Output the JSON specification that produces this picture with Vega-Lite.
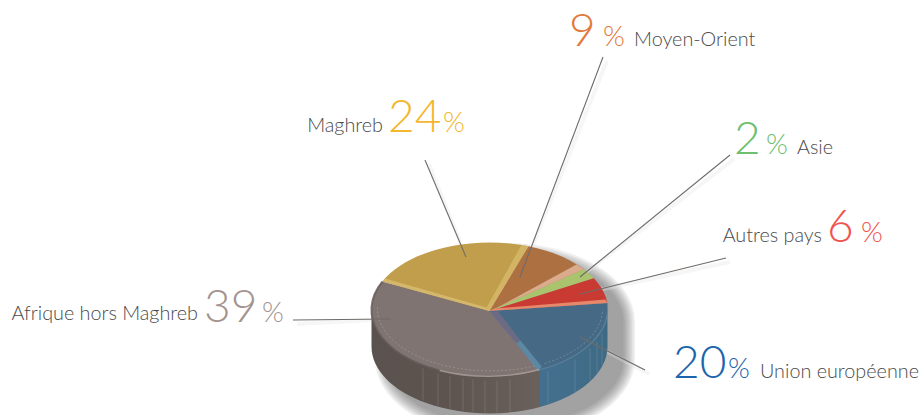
{
"$schema":"https://vega.github.io/schema/vega-lite/v6.json",
"width":921,"height":415,"padding":0,"autosize":{"type":"none"},
"background":"white","view":{"stroke":null},
"config":{"font":"Lato"},
"datasets":{
"regions":[
{"region":"Afrique hors Maghreb","share":39,"nameX":198,"nameY":320,"numX":204,"numY":322,"pctX":262,"pctY":322,"nameAlign":"right"},
{"region":"Maghreb","share":24,"nameX":383,"nameY":132,"numX":388,"numY":132,"pctX":443,"pctY":132,"nameAlign":"right"},
{"region":"Moyen-Orient","share":9,"nameX":634,"nameY":46,"numX":569,"numY":46,"pctX":603,"pctY":46,"nameAlign":"left"},
{"region":"Asie","share":2,"nameX":797,"nameY":154,"numX":734,"numY":154,"pctX":766,"pctY":154,"nameAlign":"left"},
{"region":"Autres pays","share":6,"nameX":822,"nameY":242,"numX":827,"numY":242,"pctX":861,"pctY":242,"nameAlign":"right"},
{"region":"Union européenne","share":20,"nameX":760,"nameY":378,"numX":673,"numY":378,"pctX":728,"pctY":378,"nameAlign":"left"}
],
"leaders":[
{"region":"Afrique hors Maghreb","x":293,"y":320,"x2":391,"y2":319},
{"region":"Maghreb","x":425,"y":160,"x2":466,"y2":257},
{"region":"Moyen-Orient","x":603,"y":57,"x2":520,"y2":277},
{"region":"Asie","x":730,"y":155,"x2":580,"y2":277},
{"region":"Autres pays","x":726,"y":258,"x2":580,"y2":294},
{"region":"Union européenne","x":645,"y":370,"x2":580,"y2":337}
],
"shadow":[{"level":1},{"level":2},{"level":3},{"level":4},{"level":5},{"level":6},{"level":7},{"level":8}]
},
"layer":[
{"data":{"name":"shadow"},
 "mark":{"type":"point","filled":true,"size":4,"opacity":0.075,"color":"#444444","shape":"M-118 0L-118 37A118 67 0 0 0 118 37L118 0A118 67 0 0 0 -118 0Z"},
 "encoding":{"x":{"datum":505,"type":"quantitative","scale":{"domain":[0,921],"nice":false,"zero":false},"axis":null},
 "y":{"datum":322,"type":"quantitative","scale":{"domain":[0,415],"reverse":true,"nice":false,"zero":false},"axis":null},
 "stroke":{"value":"#444444"},
 "strokeWidth":{"field":"level","type":"quantitative","scale":{"domain":[1,8],"range":[1,24]},"legend":null}}},
{"data":{"name":"leaders"},
 "mark":{"type":"rule","stroke":"#e4e4e4","strokeWidth":4,"opacity":0.35,"xOffset":4,"yOffset":4},
 "encoding":{"x":{"field":"x","type":"quantitative"},"y":{"field":"y","type":"quantitative"},"x2":{"field":"x2"},"y2":{"field":"y2"}}},
{"data":{"values":[{"part":"paroi Afrique"}]},
 "mark":{"type":"point","filled":true,"size":4,"opacity":1,"strokeWidth":0,"shape":"M-118 0L-118 37A118 67 0 0 0 50.5 97.5L50.5 60A118 67 0 0 1 -118 0Z",
 "fill":{"x1":0,"y1":0,"x2":1,"y2":0,"gradient":"linear","stops":[{"offset":0,"color":"#5a524e"},{"offset":0.45,"color":"#5d5450"},{"offset":1,"color":"#6a605c"}]}},
 "encoding":{"x":{"datum":489.5,"type":"quantitative"},"y":{"datum":309.5,"type":"quantitative"}}},
{"data":{"values":[{"part":"paroi Union"}]},
 "mark":{"type":"point","filled":true,"size":4,"opacity":1,"strokeWidth":0,"shape":"M50.5 60L50.5 97.5A118 67 0 0 0 118 37L118 0A118 67 0 0 1 50.5 60Z",
 "fill":{"x1":0,"y1":0,"x2":1,"y2":0,"gradient":"linear","stops":[{"offset":0,"color":"#44708f"},{"offset":1,"color":"#3f6a85"}]}},
 "encoding":{"x":{"datum":489.5,"type":"quantitative"},"y":{"datum":309.5,"type":"quantitative"}}},
{"data":{"values":[{"part":"filets"}]},
 "mark":{"type":"point","filled":false,"size":4,"opacity":0.18,"stroke":"#e8e4e0","strokeWidth":0.8,"shape":"M-66.5 59L-66.5 91M-51.5 64L-51.5 96M-39.5 67L-39.5 99M-26.5 69L-26.5 101M-16.5 70L-16.5 102M-4.5 71L-4.5 103M7.5 71L7.5 103M20.5 70L20.5 102M58.5 62L58.5 94M85.5 50L85.5 82M100.5 39L100.5 71M107.5 32L107.5 63M112.5 24L112.5 56"},
 "encoding":{"x":{"datum":489.5,"type":"quantitative"},"y":{"datum":309.5,"type":"quantitative"}}},
{"data":{"name":"regions"},
 "mark":{"type":"point","filled":true,"size":4,"opacity":1,"strokeWidth":0},
 "encoding":{"x":{"datum":489.5,"type":"quantitative"},"y":{"datum":309.5,"type":"quantitative"},
 "shape":{"field":"region","type":"nominal","legend":null,"scale":{"domain":["Afrique hors Maghreb","Maghreb","Moyen-Orient","Asie","Autres pays","Union européenne"],
 "range":["M0 1.5L49.2 60.9A118 67 0 0 1 -107.2 -28Z","M0 1.5L-107.2 -28A118 67 0 0 1 39 -63.3Z","M0 1.5L39 -63.3A118 67 0 0 1 94.3 -40.3Z","M0 1.5L94.3 -40.3A118 67 0 0 1 104.3 -31.3Z","M0 1.5L104.3 -31.3A118 67 0 0 1 117.8 -6.5Z","M0 1.5L117.8 -6.5A118 67 0 0 1 49.2 60.9Z"]}},
 "color":{"field":"region","type":"nominal","legend":null,"scale":{"domain":["Afrique hors Maghreb","Maghreb","Moyen-Orient","Asie","Autres pays","Union européenne"],
 "range":["#7f7472","#c09e4b","#ad7040","#a9c46c","#c93a32","#466a85"]}}}},
{"data":{"values":[{"part":"a"},{"part":"b"},{"part":"c"},{"part":"d"},{"part":"e"},{"part":"f"}]},
 "mark":{"type":"point","filled":true,"size":4,"opacity":0.95,"strokeWidth":0},
 "encoding":{"x":{"datum":489.5,"type":"quantitative"},"y":{"datum":309.5,"type":"quantitative"},
 "shape":{"field":"part","type":"nominal","legend":null,"scale":{"domain":["a","b","c","d","e","f"],
 "range":["M0 1.5L39 -63.3L32 -64.5L-3 -2Z","M0 1.5L-107.2 -28L-104.5 -31L-3 -2Z","M0 1.5L94.3 -40.3L87 -45L8 -2Z","M0 1.5L117.8 -6.5L116 -10L5 -1Z","M0.5 2L27 34L31 31L8.8 2Z","M27 34L48.8 62L52.2 57L31 31Z"]}},
 "color":{"field":"part","type":"nominal","legend":null,"scale":{"domain":["a","b","c","d","e","f"],
 "range":["#d4b566","#d6b86e","#dcae90","#e88c6e","#6f6b85","#5e8aa5"]}}}},
{"data":{"values":[{"part":"bord"}]},
 "mark":{"type":"point","filled":false,"size":4,"opacity":0.7,"stroke":"#b4a8a3","strokeWidth":1.3,"shape":"M50 60A118 67 0 0 1 -50 61"},
 "encoding":{"x":{"datum":489.5,"type":"quantitative"},"y":{"datum":309.5,"type":"quantitative"}}},
{"data":{"values":[{"part":"bord Union"}]},
 "mark":{"type":"point","filled":false,"size":4,"opacity":0.6,"stroke":"#6a90a8","strokeWidth":1.2,"shape":"M117.8 -5A118 67 0 0 1 51 60"},
 "encoding":{"x":{"datum":489.5,"type":"quantitative"},"y":{"datum":309.5,"type":"quantitative"}}},
{"data":{"values":[{"part":"bord clair"}]},
 "mark":{"type":"point","filled":false,"size":4,"opacity":0.4,"stroke":"#d8d0cc","strokeWidth":0.7,"strokeDash":[2,2],"shape":"M-112 -2A113 62 0 0 0 47 56M55 54A113 62 0 0 0 113 0"},
 "encoding":{"x":{"datum":489.5,"type":"quantitative"},"y":{"datum":309.5,"type":"quantitative"}}},
{"data":{"values":[{"part":"bord gauche"}]},
 "mark":{"type":"point","filled":false,"size":4,"opacity":0.8,"stroke":"#655c58","strokeWidth":2,"shape":"M-50 61A118 67 0 0 1 -107 -28"},
 "encoding":{"x":{"datum":489.5,"type":"quantitative"},"y":{"datum":309.5,"type":"quantitative"}}},
{"data":{"name":"leaders"},
 "mark":{"type":"rule","stroke":"#6f6b68","strokeWidth":1.1},
 "encoding":{"x":{"field":"x","type":"quantitative"},"y":{"field":"y","type":"quantitative"},"x2":{"field":"x2"},"y2":{"field":"y2"}}},
{"data":{"name":"regions"},
 "transform":[{"filter":"datum.nameAlign === 'right'"}],
 "mark":{"type":"text","fontSize":19.8,"fontWeight":300,"font":"Lato","color":"#4a4a4a","baseline":"alphabetic","align":"right"},
 "encoding":{"x":{"field":"nameX","type":"quantitative"},"y":{"field":"nameY","type":"quantitative"},"text":{"field":"region"}}},
{"data":{"name":"regions"},
 "transform":[{"filter":"datum.nameAlign === 'left'"}],
 "mark":{"type":"text","fontSize":19.8,"fontWeight":300,"font":"Lato","color":"#4a4a4a","baseline":"alphabetic","align":"left"},
 "encoding":{"x":{"field":"nameX","type":"quantitative"},"y":{"field":"nameY","type":"quantitative"},"text":{"field":"region"}}},
{"data":{"name":"regions"},
 "mark":{"type":"text","fontSize":46,"fontWeight":300,"font":"Lato","align":"left","baseline":"alphabetic"},
 "encoding":{"x":{"field":"numX","type":"quantitative"},"y":{"field":"numY","type":"quantitative"},"text":{"field":"share"},
 "color":{"field":"region","type":"nominal","legend":null,"scale":{"domain":["Afrique hors Maghreb","Maghreb","Moyen-Orient","Asie","Autres pays","Union européenne"],"range":["#a39490","#f3b72f","#e2793a","#6cc070","#ef5350","#1b65ad"]}}}},
{"data":{"name":"regions"},
 "mark":{"type":"text","fontSize":28,"fontWeight":300,"font":"Lato","align":"left","baseline":"alphabetic"},
 "encoding":{"x":{"field":"pctX","type":"quantitative"},"y":{"field":"pctY","type":"quantitative"},"text":{"value":"%"},
 "color":{"field":"region","type":"nominal","legend":null,"scale":{"domain":["Afrique hors Maghreb","Maghreb","Moyen-Orient","Asie","Autres pays","Union européenne"],"range":["#a39490","#f3b72f","#e2793a","#6cc070","#ef5350","#1b65ad"]}}}}
],
"resolve":{"scale":{"shape":"independent","color":"independent"}}
}
